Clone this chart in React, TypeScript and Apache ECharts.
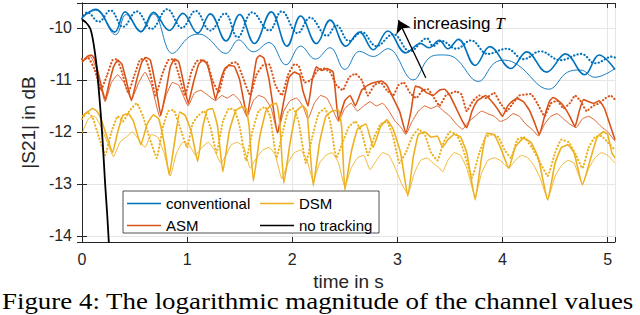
import React, { useEffect, useRef } from "react";
import * as echarts from "echarts";

// ---- data (time in s, |S21| in dB) ----
const xTicks = [0, 1, 2, 3, 4, 5];
const yTicks = [-14, -13, -12, -11, -10];

const convSolid = [[0,-9.80],[0.13,-9.64],[0.31,-10.08],[0.41,-9.69],[0.56,-10.07],[0.68,-9.70],[0.83,-10.05],[0.96,-9.72],[1.10,-10.10],[1.22,-9.73],[1.37,-10.25],[1.50,-9.74],[1.64,-10.30],[1.80,-9.69],[1.95,-10.35],[2.08,-9.77],[2.23,-10.30],[2.36,-9.85],[2.51,-10.35],[2.64,-10.08],[2.77,-10.42],[2.91,-10.06],[3.08,-10.48],[3.22,-10.30],[3.30,-10.38],[3.40,-10.24],[3.48,-10.40],[3.58,-10.22],[3.74,-10.72],[3.88,-10.36],[4.08,-10.78],[4.23,-10.46],[4.42,-10.85],[4.60,-10.50],[4.78,-10.90],[4.92,-10.52],[5.07,-10.80]];
const convDot = [[0,-9.82],[0.05,-9.70],[0.16,-9.88],[0.27,-9.66],[0.39,-9.98],[0.52,-9.68],[0.66,-10.02],[0.81,-9.64],[0.95,-10.00],[1.08,-9.67],[1.22,-10.05],[1.36,-9.72],[1.48,-10.18],[1.62,-9.70],[1.78,-10.05],[1.90,-9.68],[2.05,-10.10],[2.17,-9.80],[2.33,-10.15],[2.42,-9.95],[2.54,-10.25],[2.66,-10.08],[2.80,-10.35],[2.96,-10.12],[3.12,-10.45],[3.28,-10.20],[3.34,-10.35],[3.42,-10.25],[3.56,-10.40],[3.70,-10.24],[3.86,-10.50],[4.04,-10.40],[4.20,-10.60],[4.36,-10.45],[4.55,-10.62],[4.75,-10.50],[4.88,-10.68],[5.05,-10.55],[5.07,-10.57]];
const convThin = [[0,-9.80],[0.13,-9.66],[0.32,-10.13],[0.42,-9.74],[0.56,-10.08],[0.68,-9.73],[0.86,-10.49],[1.02,-10.17],[1.12,-10.12],[1.20,-10.20],[1.37,-10.49],[1.49,-10.23],[1.63,-10.46],[1.78,-10.28],[1.94,-10.71],[2.08,-10.35],[2.22,-10.60],[2.36,-10.38],[2.50,-10.80],[2.64,-10.45],[2.77,-10.55],[2.91,-10.40],[3.15,-11.00],[3.30,-10.58],[3.42,-10.52],[3.55,-10.58],[3.77,-11.03],[3.92,-10.68],[4.02,-10.62],[4.15,-10.72],[4.44,-11.18],[4.62,-10.85],[4.74,-10.81],[4.88,-10.95],[5.07,-10.78]];

const asmSolid = [[0,-10.66],[0.05,-10.55],[0.09,-10.52],[0.12,-10.60],[0.17,-11.00],[0.22,-11.38],[0.26,-11.05],[0.30,-10.75],[0.34,-10.62],[0.38,-10.70],[0.42,-11.00],[0.47,-11.40],[0.52,-11.00],[0.57,-10.65],[0.61,-10.57],[0.65,-10.62],[0.70,-11.10],[0.75,-11.68],[0.80,-11.20],[0.84,-10.75],[0.88,-10.60],[0.92,-10.65],[0.96,-11.00],[1.01,-11.45],[1.06,-11.05],[1.11,-10.70],[1.15,-10.62],[1.19,-10.70],[1.23,-11.00],[1.27,-11.38],[1.32,-11.00],[1.36,-10.78],[1.40,-10.72],[1.45,-10.74],[1.50,-11.00],[1.57,-11.70],[1.62,-11.10],[1.66,-10.60],[1.69,-10.53],[1.73,-10.58],[1.78,-11.00],[1.86,-12.02],[1.92,-11.40],[1.97,-10.95],[2.02,-10.85],[2.07,-10.90],[2.10,-11.20],[2.15,-11.50],[2.19,-11.00],[2.23,-10.75],[2.28,-10.82],[2.33,-10.78],[2.39,-10.85],[2.44,-11.77],[2.50,-11.40],[2.55,-11.30],[2.60,-11.50],[2.66,-11.20],[2.72,-11.10],[2.78,-11.05],[2.85,-11.02],[2.90,-11.10],[2.96,-11.35],[3.02,-11.60],[3.08,-12.02],[3.13,-11.60],[3.17,-11.12],[3.22,-11.15],[3.28,-11.25],[3.34,-11.30],[3.40,-11.20],[3.45,-11.18],[3.50,-11.30],[3.56,-11.55],[3.62,-11.80],[3.66,-11.92],[3.71,-11.60],[3.76,-11.40],[3.80,-11.35],[3.84,-11.30],[3.90,-11.42],[3.95,-11.55],[4.00,-11.70],[4.05,-11.50],[4.10,-11.40],[4.14,-11.36],[4.20,-11.42],[4.26,-11.60],[4.31,-11.85],[4.35,-12.06],[4.40,-11.70],[4.45,-11.40],[4.48,-11.34],[4.53,-11.40],[4.58,-11.50],[4.64,-11.70],[4.69,-11.90],[4.73,-11.60],[4.77,-11.38],[4.82,-11.42],[4.87,-11.45],[4.92,-11.40],[4.97,-11.55],[5.02,-11.85],[5.07,-12.15]];
const asmDot = [[0,-10.60],[0.06,-10.58],[0.12,-10.80],[0.18,-11.20],[0.24,-10.90],[0.29,-10.62],[0.33,-10.60],[0.38,-10.85],[0.44,-11.25],[0.50,-10.90],[0.55,-10.62],[0.60,-10.58],[0.64,-10.80],[0.70,-11.30],[0.77,-10.85],[0.82,-10.62],[0.87,-10.60],[0.92,-10.90],[0.98,-11.30],[1.04,-10.85],[1.09,-10.64],[1.14,-10.62],[1.19,-10.66],[1.24,-11.00],[1.30,-11.25],[1.36,-10.80],[1.42,-10.68],[1.47,-10.66],[1.53,-10.95],[1.60,-11.30],[1.66,-10.90],[1.72,-10.72],[1.78,-10.70],[1.84,-11.10],[1.90,-11.30],[1.96,-10.90],[2.02,-10.70],[2.06,-10.72],[2.12,-11.05],[2.18,-11.00],[2.24,-10.82],[2.30,-10.78],[2.36,-10.85],[2.42,-11.10],[2.48,-11.20],[2.54,-10.95],[2.60,-10.88],[2.66,-11.00],[2.72,-11.30],[2.78,-11.10],[2.84,-11.05],[2.90,-11.20],[2.96,-11.30],[3.01,-11.10],[3.06,-11.05],[3.12,-11.25],[3.18,-11.35],[3.24,-11.20],[3.29,-11.18],[3.35,-11.35],[3.40,-11.50],[3.46,-11.30],[3.52,-11.25],[3.56,-11.22],[3.61,-11.28],[3.66,-11.60],[3.72,-11.40],[3.78,-11.30],[3.84,-11.35],[3.92,-11.25],[3.98,-11.45],[4.04,-11.60],[4.10,-11.45],[4.16,-11.30],[4.22,-11.28],[4.27,-11.27],[4.33,-11.45],[4.40,-11.70],[4.46,-11.45],[4.52,-11.40],[4.58,-11.55],[4.64,-11.45],[4.69,-11.30],[4.74,-11.40],[4.80,-11.60],[4.86,-11.50],[4.92,-11.45],[4.98,-11.35],[5.03,-11.30],[5.07,-11.38]];
const asmThin = [[0,-10.65],[0.08,-10.55],[0.14,-10.80],[0.22,-11.42],[0.28,-11.05],[0.34,-10.90],[0.40,-11.05],[0.47,-11.38],[0.54,-11.05],[0.60,-10.85],[0.66,-11.10],[0.74,-11.71],[0.80,-11.30],[0.86,-11.05],[0.92,-11.10],[1.01,-11.50],[1.07,-11.25],[1.13,-11.20],[1.20,-11.30],[1.27,-11.40],[1.33,-11.30],[1.38,-11.35],[1.44,-11.28],[1.50,-11.40],[1.57,-11.71],[1.63,-11.40],[1.68,-11.30],[1.74,-11.35],[1.80,-11.55],[1.86,-12.02],[1.92,-11.60],[1.98,-11.40],[2.04,-11.35],[2.10,-11.50],[2.15,-11.75],[2.21,-11.45],[2.27,-11.30],[2.33,-11.35],[2.38,-11.55],[2.44,-11.80],[2.50,-11.55],[2.56,-11.45],[2.62,-11.60],[2.68,-11.50],[2.74,-11.42],[2.80,-11.50],[2.86,-11.45],[2.92,-11.60],[2.98,-11.80],[3.03,-11.90],[3.08,-12.05],[3.14,-11.80],[3.20,-11.60],[3.26,-11.50],[3.32,-11.55],[3.38,-11.50],[3.44,-11.60],[3.50,-11.70],[3.56,-11.85],[3.62,-11.95],[3.68,-11.80],[3.74,-11.70],[3.80,-11.60],[3.86,-11.65],[3.92,-11.70],[3.98,-11.80],[4.04,-11.75],[4.10,-11.65],[4.16,-11.70],[4.22,-11.85],[4.28,-11.95],[4.34,-12.08],[4.40,-11.85],[4.46,-11.70],[4.52,-11.65],[4.58,-11.75],[4.64,-11.85],[4.70,-11.92],[4.76,-11.75],[4.82,-11.70],[4.88,-11.78],[4.94,-11.90],[5.00,-12.00],[5.07,-12.18]];

const dsmSolid = [[0,-11.70],[0.05,-11.62],[0.10,-11.55],[0.14,-11.60],[0.18,-11.75],[0.23,-12.05],[0.29,-12.40],[0.34,-12.00],[0.39,-11.68],[0.44,-11.65],[0.49,-11.80],[0.56,-12.25],[0.62,-11.85],[0.68,-11.67],[0.73,-11.75],[0.78,-12.20],[0.83,-12.83],[0.88,-12.20],[0.93,-11.62],[0.98,-11.68],[1.04,-12.00],[1.10,-12.57],[1.15,-11.90],[1.19,-11.58],[1.24,-11.55],[1.29,-11.90],[1.34,-12.77],[1.40,-12.00],[1.46,-11.60],[1.52,-11.52],[1.56,-11.55],[1.59,-11.90],[1.63,-12.95],[1.69,-12.10],[1.75,-11.60],[1.80,-11.48],[1.85,-11.45],[1.88,-11.80],[1.92,-12.99],[1.98,-12.20],[2.04,-11.60],[2.10,-11.50],[2.14,-11.60],[2.20,-13.04],[2.26,-12.20],[2.32,-11.70],[2.38,-11.60],[2.44,-11.58],[2.47,-11.90],[2.50,-13.12],[2.56,-12.40],[2.62,-11.95],[2.70,-11.85],[2.77,-12.30],[2.84,-11.90],[2.90,-11.77],[2.96,-11.95],[3.03,-12.40],[3.10,-13.24],[3.15,-12.50],[3.20,-12.05],[3.26,-12.00],[3.32,-12.10],[3.38,-12.08],[3.43,-12.30],[3.48,-12.15],[3.54,-12.05],[3.60,-12.10],[3.66,-12.40],[3.74,-13.31],[3.80,-12.50],[3.85,-12.03],[3.92,-12.05],[3.98,-12.30],[4.06,-12.70],[4.12,-12.30],[4.20,-12.12],[4.27,-12.20],[4.34,-12.50],[4.43,-13.31],[4.50,-12.60],[4.56,-12.30],[4.62,-12.25],[4.68,-12.40],[4.76,-13.02],[4.84,-12.50],[4.90,-12.10],[4.96,-12.00],[5.00,-12.05],[5.04,-12.40],[5.07,-12.50]];
const dsmDot = [[0,-11.75],[0.05,-11.62],[0.10,-11.72],[0.16,-12.10],[0.22,-12.45],[0.28,-12.00],[0.34,-11.70],[0.39,-11.80],[0.45,-11.60],[0.52,-11.45],[0.58,-11.70],[0.64,-12.10],[0.71,-12.50],[0.77,-11.90],[0.82,-11.60],[0.87,-11.58],[0.93,-11.90],[1.00,-12.30],[1.05,-11.85],[1.10,-11.70],[1.16,-11.60],[1.22,-11.90],[1.28,-12.40],[1.34,-11.80],[1.40,-11.55],[1.45,-11.58],[1.50,-11.90],[1.56,-12.55],[1.62,-12.00],[1.68,-11.60],[1.74,-11.52],[1.79,-11.70],[1.85,-12.50],[1.91,-12.00],[1.96,-11.60],[2.01,-11.55],[2.06,-11.80],[2.13,-12.60],[2.19,-12.10],[2.25,-11.65],[2.31,-11.55],[2.36,-11.80],[2.42,-12.50],[2.48,-12.20],[2.54,-11.90],[2.60,-11.80],[2.66,-12.00],[2.72,-12.45],[2.78,-12.10],[2.84,-11.85],[2.90,-11.80],[2.96,-12.10],[3.02,-12.60],[3.08,-12.40],[3.14,-12.10],[3.20,-11.95],[3.26,-12.05],[3.32,-12.40],[3.38,-12.55],[3.44,-12.20],[3.50,-12.00],[3.56,-12.05],[3.62,-12.30],[3.71,-12.88],[3.78,-12.40],[3.84,-12.10],[3.90,-12.05],[3.96,-12.10],[4.02,-12.35],[4.08,-12.50],[4.14,-12.15],[4.20,-12.10],[4.28,-12.30],[4.36,-12.60],[4.43,-12.85],[4.50,-12.40],[4.56,-12.15],[4.63,-12.20],[4.70,-12.45],[4.76,-12.70],[4.82,-12.30],[4.88,-12.10],[4.94,-12.08],[5.00,-12.20],[5.07,-12.35]];
const dsmThin = [[0,-12.03],[0.06,-11.75],[0.12,-11.70],[0.18,-11.90],[0.24,-12.20],[0.30,-12.48],[0.36,-12.20],[0.42,-12.10],[0.48,-12.00],[0.54,-12.15],[0.60,-12.30],[0.66,-12.05],[0.72,-12.10],[0.78,-12.40],[0.84,-12.85],[0.90,-12.40],[0.96,-12.20],[1.02,-12.25],[1.08,-12.45],[1.14,-12.30],[1.20,-12.20],[1.26,-12.35],[1.32,-12.60],[1.37,-12.45],[1.42,-12.25],[1.48,-12.20],[1.54,-12.30],[1.60,-12.70],[1.66,-12.50],[1.72,-12.35],[1.78,-12.30],[1.84,-12.45],[1.90,-12.90],[1.96,-12.60],[2.02,-12.40],[2.08,-12.35],[2.14,-12.55],[2.20,-12.95],[2.26,-12.60],[2.32,-12.45],[2.38,-12.40],[2.44,-12.60],[2.50,-13.05],[2.56,-12.70],[2.62,-12.50],[2.68,-12.45],[2.74,-12.73],[2.80,-12.55],[2.86,-12.40],[2.92,-12.45],[2.98,-12.70],[3.04,-13.00],[3.10,-13.20],[3.16,-12.80],[3.22,-12.55],[3.28,-12.50],[3.34,-12.60],[3.40,-12.70],[3.43,-12.77],[3.48,-12.55],[3.54,-12.40],[3.60,-12.45],[3.66,-12.70],[3.74,-13.25],[3.80,-12.80],[3.86,-12.55],[3.92,-12.50],[3.98,-12.55],[4.06,-12.70],[4.12,-12.55],[4.18,-12.45],[4.24,-12.50],[4.30,-12.65],[4.36,-12.90],[4.43,-13.30],[4.50,-12.85],[4.56,-12.65],[4.62,-12.55],[4.68,-12.60],[4.76,-13.00],[4.82,-12.70],[4.88,-12.50],[4.94,-12.40],[5.00,-12.45],[5.07,-12.60]];

const noTracking = [[0,-9.84],[0.04,-9.90],[0.08,-10.02],[0.11,-10.30],[0.14,-10.75],[0.16,-11.20],[0.18,-11.70],[0.20,-12.30],[0.22,-13.00],[0.24,-13.60],[0.26,-14.30]];

const arrowTail = [3.27, -10.96];
const arrowHead = [3.01, -9.85];

const C_BLUE = "#0072BD";
const C_ORANGE = "#D95319";
const C_YELLOW = "#EDB120";
const C_TEXT = "#262626";
const FONT = "Liberation Sans, Arial, sans-serif";
const LEGEND_ICON = "path://M0,0 H34 V1.5 H0 Z";

const X_MIN = 0, X_MAX = 5.07, Y_MIN = -14.12, Y_MAX = -9.52;

function lineSeries(name: string, data: number[][], color: string, kind: "solid" | "dot" | "thin", smooth: number) {
  const width = kind === "thin" ? 0.9 : kind === "dot" ? 2.1 : 1.6;
  return {
    name,
    type: "line",
    data,
    symbol: "none",
    showSymbol: false,
    smooth,
    z: kind === "thin" ? 2 : 3,
    lineStyle: {
      color,
      width,
      type: kind === "dot" ? [0.3, 3.2] : "solid",
      cap: kind === "dot" ? "round" : "butt",
    },
    itemStyle: { color },
    emphasis: { disabled: true },
  };
}

export default function App() {
  const ref = useRef<HTMLDivElement>(null);
  useEffect(() => {
    if (!ref.current) return;
    const chart = echarts.init(ref.current, null, { renderer: "svg" });
    const isInt = (v: number) => Math.abs(v - Math.round(v)) < 1e-9;
    const legendCommon = {
      orient: "vertical", top: 196, padding: 0,
      itemWidth: 34, itemHeight: 14, itemGap: 7, selectedMode: false,
      icon: LEGEND_ICON, symbolKeepAspect: true,
      textStyle: { fontFamily: FONT, fontSize: 15, color: "#000" }, z: 10,
    };
    const option: any = {
      animation: false,
      backgroundColor: "#ffffff",
      grid: { left: 82, right: 25, top: 3, bottom: 73, containLabel: false },
      xAxis: [
        {
          type: "value", min: X_MIN, max: X_MAX, interval: 1,
          name: "time in s", nameLocation: "middle", nameGap: 17,
          nameTextStyle: { fontFamily: FONT, fontSize: 19, color: C_TEXT },
          axisLine: { show: true, lineStyle: { color: C_TEXT, width: 1 } },
          axisTick: { show: true, inside: true, length: 5, lineStyle: { color: C_TEXT } },
          axisLabel: { margin: 9, fontFamily: FONT, fontSize: 16, color: C_TEXT, formatter: (v: number) => (isInt(v) && xTicks.includes(Math.round(v)) ? String(Math.round(v)) : "") },
          splitLine: { show: true, lineStyle: { color: "#e6e6e6", width: 1 } },
        },
        {
          type: "value", min: X_MIN, max: X_MAX, interval: 1, position: "top",
          axisLine: { show: true, lineStyle: { color: C_TEXT, width: 1 } },
          axisTick: { show: true, inside: true, length: 5, lineStyle: { color: C_TEXT } },
          axisLabel: { show: false }, splitLine: { show: false },
        },
      ],
      yAxis: [
        {
          type: "value", min: Y_MIN, max: Y_MAX, splitNumber: 5,
          name: "|S21| in dB", nameLocation: "middle", nameGap: 30,
          nameTextStyle: { fontFamily: FONT, fontSize: 19, color: C_TEXT },
          axisLine: { show: true, lineStyle: { color: C_TEXT, width: 1 } },
          axisTick: { show: true, inside: true, length: 5, lineStyle: { color: C_TEXT } },
          axisLabel: { margin: 10, fontFamily: FONT, fontSize: 16, color: C_TEXT, formatter: (v: number) => (isInt(v) && yTicks.includes(Math.round(v)) ? String(Math.round(v)) : "") },
          splitLine: { show: true, lineStyle: { color: "#e6e6e6", width: 1 } },
        },
        {
          type: "value", min: Y_MIN, max: Y_MAX, splitNumber: 5, position: "right",
          axisLine: { show: true, lineStyle: { color: C_TEXT, width: 1 } },
          axisTick: { show: true, inside: true, length: 5, lineStyle: { color: C_TEXT } },
          axisLabel: { show: false }, splitLine: { show: false },
        },
      ],
      legend: [
        { ...legendCommon, data: ["conventional", "ASM"], left: 127 },
        { ...legendCommon, data: ["DSM", "no tracking"], left: 260 },
      ],
      graphic: [
        { type: "rect", z: 8, shape: { x: 123, y: 191, width: 256, height: 42 }, style: { fill: "#fff", stroke: C_TEXT, lineWidth: 0.8 } },
        {
          type: "text", z: 9, x: 413, y: 23,
          style: {
            text: "increasing {it|T}", fontFamily: FONT, fontSize: 17, fill: "#000", verticalAlign: "middle",
            rich: { it: { fontFamily: "Liberation Serif, serif", fontStyle: "italic", fontSize: 17, fill: "#000" } },
          },
        },
        {
          type: "text", z: 9, x: 2, y: 301, scaleX: 1.17,
          style: { text: "Figure 4: The logarithmic magnitude of the channel values", fontFamily: "Liberation Serif, serif", fontSize: 23, fill: "#000", verticalAlign: "middle" },
        },
      ],
      series: [
        lineSeries("conventional T3", convThin, C_BLUE, "thin", 0.4),
        lineSeries("conventional T2", convDot, C_BLUE, "dot", 0.4),
        lineSeries("conventional", convSolid, C_BLUE, "solid", 0.4),
        lineSeries("ASM T3", asmThin, C_ORANGE, "thin", 0.12),
        lineSeries("ASM T2", asmDot, C_ORANGE, "dot", 0.12),
        lineSeries("ASM", asmSolid, C_ORANGE, "solid", 0.12),
        lineSeries("DSM T3", dsmThin, C_YELLOW, "thin", 0.12),
        lineSeries("DSM T2", dsmDot, C_YELLOW, "dot", 0.12),
        lineSeries("DSM", dsmSolid, C_YELLOW, "solid", 0.12),
        {
          ...lineSeries("no tracking", noTracking, "#000000", "solid", 0.3),
          lineStyle: { color: "#000", width: 1.8 },
          markLine: {
            silent: true, symbol: ["none", "arrow"], symbolSize: 12,
            label: { show: false },
            lineStyle: { color: "#000", width: 1.3, type: "solid" },
            data: [[{ coord: arrowTail }, { coord: arrowHead }]],
          },
        },
      ],
    };
    chart.setOption(option);
    return () => chart.dispose();
  }, []);
  return <div ref={ref} style={{ position: "fixed", left: 0, top: 0, width: 640, height: 315, background: "#fff" }} />;
}
